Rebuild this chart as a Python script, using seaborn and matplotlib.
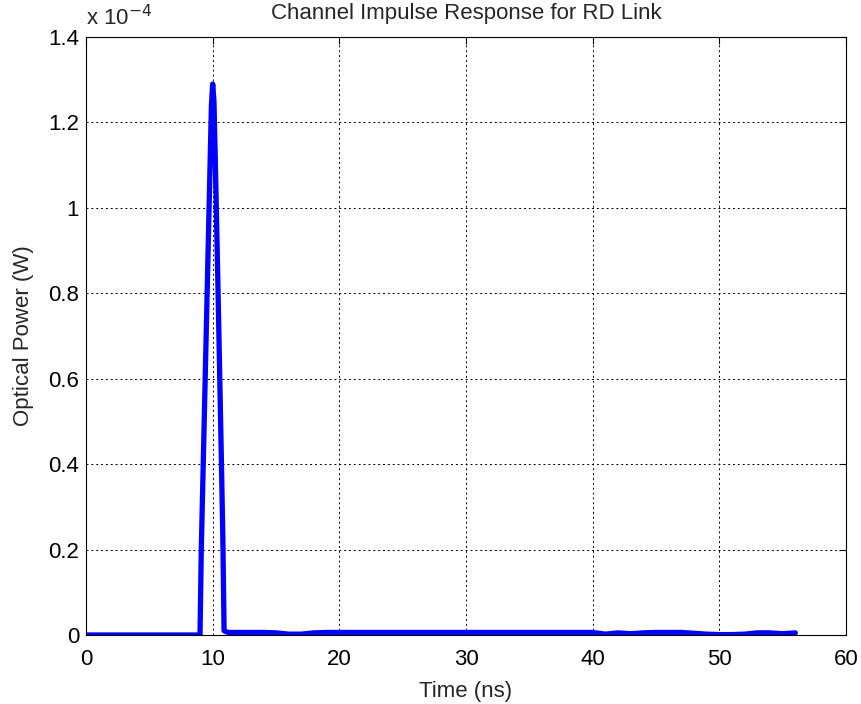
import numpy as np
import pandas as pd
import matplotlib
matplotlib.use("Agg")
import matplotlib.pyplot as plt
import seaborn as sns

# Time (ns) and optical power (units of 1e-4 W)
time_pre = [0.0, 9.0]
power_pre = [0.0, 0.0]

time_peak = [9.1, 9.2, 9.3, 9.4, 9.5, 9.6, 9.7, 9.8, 9.9, 10.0,
             10.1, 10.2, 10.3, 10.4, 10.5, 10.6, 10.7, 10.8, 10.9]
power_peak = [0.20, 0.33, 0.46, 0.59, 0.72, 0.85, 0.98, 1.11, 1.24, 1.29,
              1.25, 1.12, 0.98, 0.84, 0.69, 0.54, 0.39, 0.23, 0.01]

time_tail = [11.2, 12, 13, 14, 15, 16, 17, 18, 19, 20, 22, 25, 28, 30, 33, 36, 38, 40,
             41, 42, 43, 44, 45, 46, 47, 48, 49, 50, 51, 52, 53, 54, 55, 56]
power_tail = [0.006, 0.006, 0.006, 0.006, 0.005, 0.002, 0.002, 0.005, 0.006, 0.006,
              0.006, 0.006, 0.006, 0.006, 0.006, 0.006, 0.006, 0.006,
              0.002, 0.005, 0.003, 0.005, 0.006, 0.006, 0.006, 0.004,
              0.002, 0.001, 0.001, 0.002, 0.005, 0.005, 0.003, 0.005]

x_ticks = [0, 10, 20, 30, 40, 50, 60]
y_ticks = [0, 0.2, 0.4, 0.6, 0.8, 1.0, 1.2, 1.4]
y_tick_labels = ["0", "0.2", "0.4", "0.6", "0.8", "1", "1.2", "1.4"]

df = pd.DataFrame({
    "t": time_pre + time_peak + time_tail,
    "p": power_pre + power_peak + power_tail,
})

sns.set_style("white")
plt.rcParams['font.family'] = ['Liberation Sans', 'DejaVu Sans']

fig = plt.figure(figsize=(8.62, 7.04), dpi=100)
ax = fig.add_axes([0.0998, 0.0980, 0.8816, 0.8494])

sns.lineplot(data=df, x="t", y="p", ax=ax, color="#0000FF", linewidth=3.8,
             sort=False)

ax.set_xlim(0, 60)
ax.set_ylim(0, 1.4)
ax.set_xticks(x_ticks)
ax.set_xticklabels([str(v) for v in x_ticks])
ax.set_yticks(y_ticks)
ax.set_yticklabels(y_tick_labels)
ax.tick_params(direction="in", length=5, labelsize=16, colors="black", width=0.8,
               top=True, right=True, pad=5)
ax.tick_params(axis="x", pad=10)
ax.grid(True, color="black", linestyle=(0, (2, 3)), linewidth=0.7)
for s in ax.spines.values():
    s.set_color("black")
    s.set_linewidth(0.8)

ax.set_xlabel("Time (ns)", fontsize=16, labelpad=8)
ax.set_ylabel("Optical Power (W)", fontsize=16, labelpad=10)
ax.set_title("Channel Impulse Response for RD Link", fontsize=16, pad=13)
ax.text(0.0, 1.012, r"x 10$^{-4}$", transform=ax.transAxes, fontsize=16,
        ha="left", va="bottom")

fig.savefig("out.png", dpi=100)
